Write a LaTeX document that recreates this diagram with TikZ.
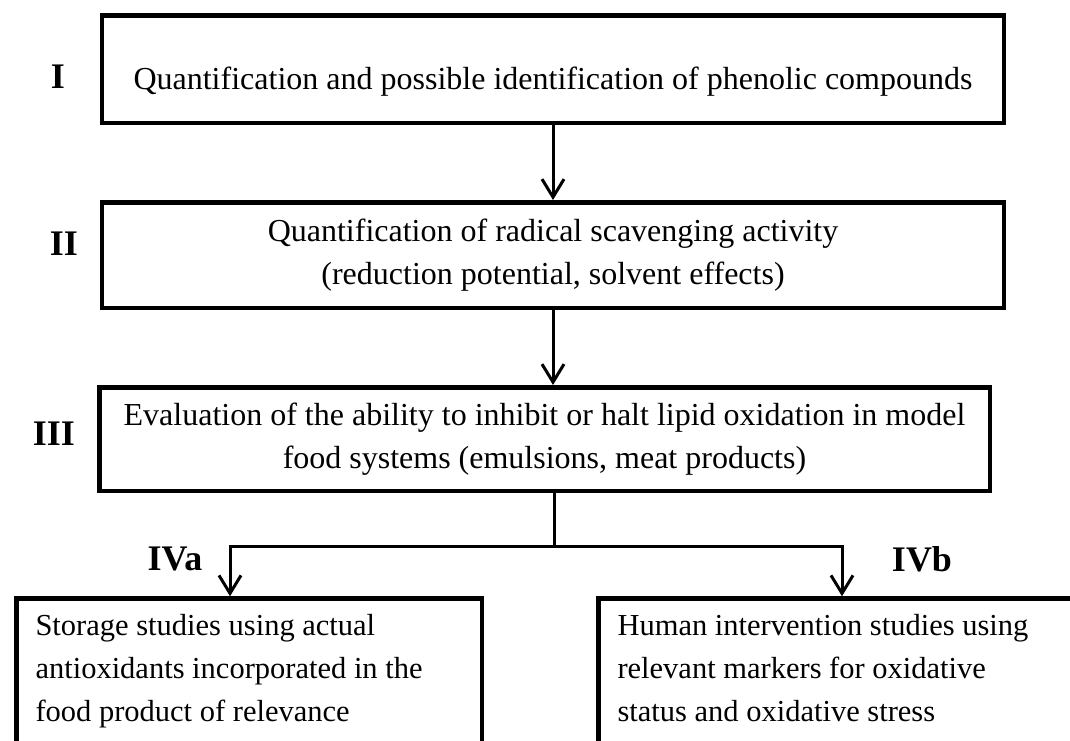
\documentclass[tikz,border=0pt]{standalone}
\usepackage{fontspec}
\setmainfont{Liberation Serif}
\usetikzlibrary{arrows.meta}
\begin{document}
\begin{tikzpicture}[x=1pt,y=-1pt,
  box/.style={draw, line width=4.5pt, rectangle, align=center,
    font=\fontsize{32}{43}\selectfont, inner sep=0pt},
  lowbox/.style={box, align=flush left, anchor=north west, inner xsep=19pt,
    inner ysep=16pt, text depth=200pt, font=\fontsize{30.5}{43}\selectfont},
  lbl/.style={font=\bfseries\fontsize{36}{40}\selectfont, inner sep=0pt},
  link/.style={line width=3pt, line join=miter},
  arr/.style={link, -{Straight Barb[length=18pt,width=22pt,line width=3pt]}}]
\clip (0,0) rectangle (1070,740);
\fill[white] (0,0) rectangle (1070,740);

\node[box, minimum width=902pt, minimum height=107.5pt, text height=40pt, text depth=0pt]
  (b1) at (553,69) {Quantification and possible identification of phenolic compounds};
\node[box, minimum width=902pt, minimum height=105.5pt]
  (b2) at (553,255) {Quantification of radical scavenging activity\\(reduction potential, solvent effects)};
\node[box, minimum width=890.5pt, minimum height=103.5pt]
  (b3) at (544.5,439) {Evaluation of the ability to inhibit or halt lipid oxidation in model\\food systems (emulsions, meat products)};

\node[lowbox, text width=427.5pt] (la) at (14.25,596.25)
  {Storage studies using actual\\antioxidants incorporated in the\\food product of relevance};
\node[lowbox, text width=500pt] (rb) at (596.25,596.25)
  {Human intervention studies using\\relevant markers for oxidative\\status and oxidative stress};

\node[lbl] (l1) at (58,77) {I};
\node[lbl] (l2) at (64,244) {II};
\node[lbl] (l3) at (54,434) {III};
\node[lbl] (l4a) at (175,559) {IVa};
\node[lbl] (l4b) at (922,559) {IVb};

\coordinate (j) at (554,546);
\coordinate (xa) at (230,546);
\coordinate (xb) at (842,546);

\draw[arr] (b1.south) -- (b1.south |- b2.north);
\draw[arr] (b2.south) -- (b2.south |- b3.north);
\draw[link] (b3.south -| j) -- (j);
\draw[arr] (j) -| (xa |- la.north);
\draw[arr] (j) -| (xb |- rb.north);
\end{tikzpicture}
\end{document}
